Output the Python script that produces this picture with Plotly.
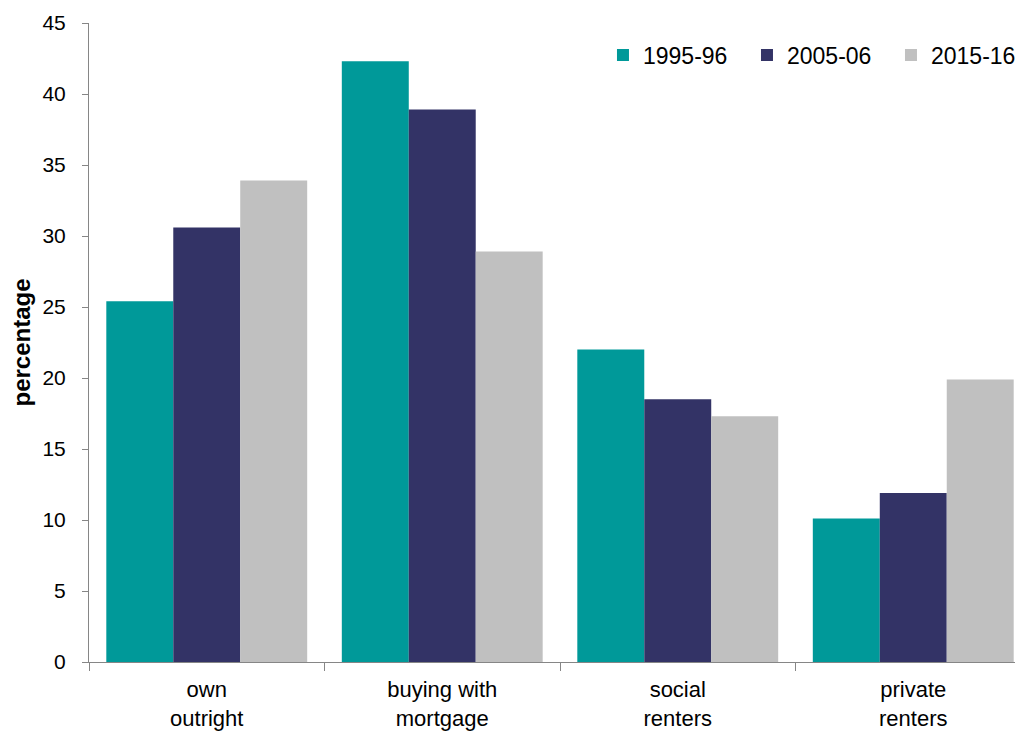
import plotly.graph_objects as go

categories = ["own<br>outright", "buying with<br>mortgage", "social<br>renters", "private<br>renters"]
series_names = ["1995-96", "2005-06", "2015-16"]
v1995 = [25.4, 42.3, 22.0, 10.1]
v2005 = [30.6, 38.9, 18.5, 11.9]
v2015 = [33.9, 28.9, 17.3, 19.9]
colors = ["#009999", "#333366", "#C0C0C0"]

fig = go.Figure()
for name, vals, col in zip(series_names, [v1995, v2005, v2015], colors):
    fig.add_trace(go.Bar(x=categories, y=vals, name=name, marker=dict(color=col, line=dict(width=0))))

fig.update_layout(
    width=1023, height=731,
    barmode="group", bargap=0.147, bargroupgap=0,
    plot_bgcolor="white", paper_bgcolor="white",
    margin=dict(l=81, r=8, t=15, b=77, autoexpand=False),
    font=dict(family="Liberation Sans, Arial, sans-serif", color="#000000"),
    legend=dict(orientation="h", x=0.5503, xanchor="left", y=0.95, yanchor="middle",
                font=dict(size=23), entrywidth=99, bgcolor="rgba(0,0,0,0)"),
)
fig.update_xaxes(
    range=[-0.5, 3.466], showline=True, linecolor="#868686", linewidth=1,
    ticks="outside", tickson="boundaries", ticklen=8, tickcolor="#868686",
    tickfont=dict(size=22), ticklabelstandoff=8,
    showgrid=False,
)
fig.update_yaxes(
    range=[0, 45], dtick=5, showline=True, linecolor="#868686", linewidth=1,
    ticks="outside", ticklen=6, tickcolor="#868686", showgrid=False, zeroline=False,
    tickfont=dict(size=21), ticklabelstandoff=12,
    title=dict(text="<b>percentage</b>", font=dict(size=24), standoff=6),
)
fig.write_html("out.html")
